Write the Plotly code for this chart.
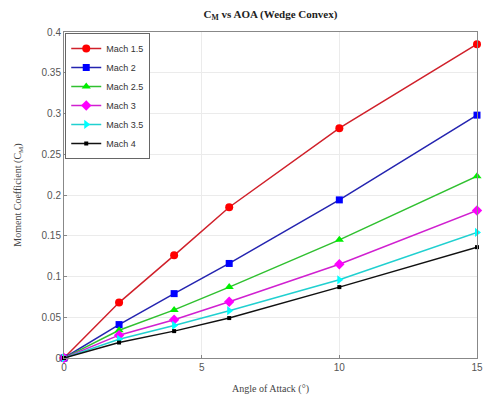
import plotly.graph_objects as go

aoa = [0, 2, 4, 6, 10, 15]
mach_labels = ["Mach 1.5", "Mach 2", "Mach 2.5", "Mach 3", "Mach 3.5", "Mach 4"]
cm_m15 = [0, 0.068, 0.126, 0.185, 0.282, 0.385]
cm_m2 = [0, 0.041, 0.079, 0.116, 0.194, 0.298]
cm_m25 = [0, 0.034, 0.059, 0.087, 0.145, 0.223]
cm_m3 = [0, 0.028, 0.047, 0.069, 0.115, 0.181]
cm_m35 = [0, 0.023, 0.040, 0.058, 0.096, 0.154]
cm_m4 = [0, 0.019, 0.033, 0.049, 0.087, 0.136]
x_ticks = [0, 5, 10, 15]
y_ticks = [0, 0.05, 0.1, 0.15, 0.2, 0.25, 0.3, 0.35, 0.4]
y_tick_text = ["0", "0.05", "0.1", "0.15", "0.2", "0.25", "0.3", "0.35", "0.4"]

series = [cm_m15, cm_m2, cm_m25, cm_m3, cm_m35, cm_m4]
colors = ["#ff0000", "#0000ff", "#00ee00", "#ff00ff", "#00ffff", "#000000"]
line_colors = ["#d0202a", "#2424b0", "#30c030", "#d020d0", "#20d0d0", "#111111"]
symbols = ["circle", "square", "triangle-up", "diamond", "triangle-right", "square"]
sizes = [8, 7, 8, 8, 8, 4]

fig = go.Figure()
for name, ys, c, lc, s, sz in zip(mach_labels, series, colors, line_colors, symbols, sizes):
    fig.add_trace(go.Scatter(
        x=aoa, y=ys, name=name, mode="lines+markers", cliponaxis=False,
        line=dict(color=lc, width=1.5),
        marker=dict(symbol=s, size=sz, color=c, line=dict(width=0)),
    ))

# the page has an 8px body margin, so the figure is sized to fill the rest of the window
fig.update_layout(
    width=483, height=392,
    margin=dict(l=56, r=8, t=24, b=39),
    paper_bgcolor="white", plot_bgcolor="white",
    title=dict(text="<b>C<sub>M</sub> vs AOA (Wedge Convex)</b>", x=0.5, xref="paper", xanchor="center",
               y=0.995, yanchor="top",
               font=dict(family="Liberation Serif", size=11, color="#222")),
    font=dict(family="Liberation Sans", size=10, color="#555"),
    legend=dict(x=0.003, y=0.997, xanchor="left", yanchor="top",
                bgcolor="white", bordercolor="#666", borderwidth=1,
                font=dict(size=9, color="#333"), tracegroupgap=0,
                itemwidth=30),
    showlegend=True,
)
fig.update_xaxes(
    range=[0, 15], tickvals=x_ticks, ticks="inside", ticklen=3, tickcolor="#888",
    showgrid=True, gridcolor="#ebebeb", showline=True, linecolor="#888",
    mirror=True, zeroline=False,
    title=dict(text="Angle of Attack (°)", font=dict(family="Liberation Serif", size=10, color="#444"), standoff=12),
)
fig.update_yaxes(
    range=[0, 0.4], tickvals=y_ticks, ticktext=y_tick_text, ticks="inside", ticklen=3, tickcolor="#888",
    showgrid=True, gridcolor="#ebebeb", showline=True, linecolor="#888",
    mirror=True, zeroline=False,
    title=dict(text="Moment Coefficient (C<sub>M</sub>)", font=dict(family="Liberation Serif", size=10, color="#444"), standoff=18),
)

fig.write_html("out.html")
